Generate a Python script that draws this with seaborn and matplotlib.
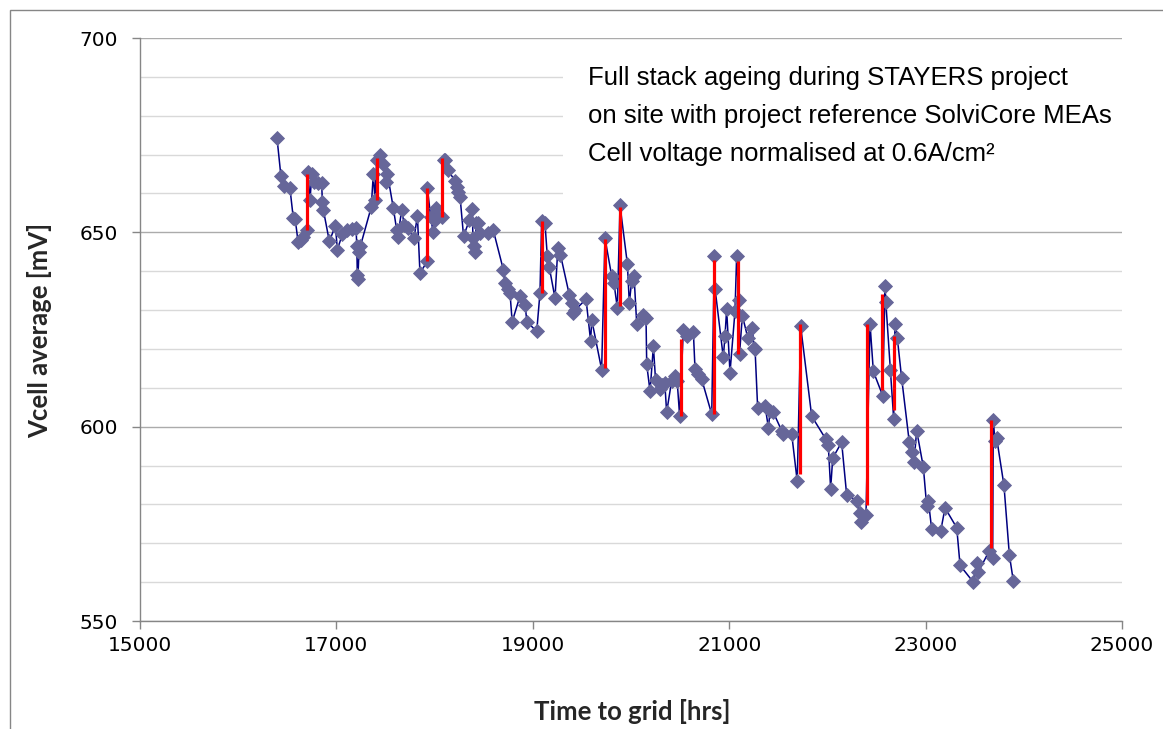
import matplotlib
matplotlib.use("Agg")
import matplotlib.pyplot as plt
import matplotlib.patches as patches
from matplotlib.ticker import MultipleLocator
import seaborn as sns
import pandas as pd

# ---- data ----
hours = [16395, 16435, 16470, 16527, 16561, 16580, 16610, 16635, 16660, 16697,
         16710, 16731, 16750, 16775, 16816, 16850, 16857, 16867, 16928, 16990,
         17010, 17060, 17110, 17155, 17200, 17208, 17213, 17218, 17230, 17245,
         17355, 17376, 17393, 17410, 17444, 17478, 17500, 17520, 17580, 17614,
         17625, 17665, 17690, 17725, 17790, 17825, 17851, 17926, 17926, 17960,
         17985, 18000, 18010, 18025, 18079, 18092, 18106, 18134, 18208, 18225,
         18241, 18259, 18295, 18355, 18385, 18390, 18398, 18408, 18425, 18445,
         18462, 18547, 18598, 18700, 18717, 18751, 18768, 18790, 18870, 18921,
         18940, 19040, 19073, 19090, 19124, 19148, 19168, 19226, 19255, 19282,
         19372, 19396, 19413, 19430, 19542, 19589, 19600, 19701, 19735, 19803,
         19827, 19861, 19888, 19963, 19983, 20007, 20031, 20058, 20126, 20153,
         20160, 20194, 20228, 20250, 20295, 20320, 20344, 20363, 20414, 20450,
         20470, 20495, 20533, 20567, 20635, 20652, 20686, 20720, 20822, 20849,
         20856, 20940, 20957, 20974, 21008, 21059, 21076, 21099, 21105, 21134,
         21189, 21236, 21250, 21263, 21290, 21365, 21400, 21415, 21449, 21534,
         21550, 21636, 21693, 21728, 21840, 21986, 22009, 22033, 22054, 22145,
         22196, 22298, 22332, 22339, 22393, 22434, 22468, 22563, 22587, 22595,
         22641, 22675, 22688, 22712, 22756, 22834, 22858, 22882, 22909, 22977,
         23011, 23028, 23062, 23154, 23198, 23317, 23351, 23486, 23520, 23537,
         23649, 23683, 23689, 23707, 23724, 23798, 23853, 23894]
vcell = [674.3, 664.5, 662.0, 661.3, 653.7, 653.5, 647.5, 648.0, 648.8, 650.5,
         665.5, 658.3, 665.0, 663.0, 662.6, 662.6, 657.9, 655.8, 647.7, 651.7,
         645.5, 649.5, 650.5, 650.9, 651.1, 646.4, 639.0, 638.0, 644.9, 646.5,
         656.5, 665.1, 658.3, 668.7, 670.0, 667.7, 663.0, 665.0, 656.2, 650.7,
         648.8, 655.8, 652.0, 651.0, 648.5, 654.2, 639.5, 642.6, 661.5, 654.0,
         650.0, 653.1, 656.3, 654.0, 654.0, 668.7, 668.5, 666.0, 663.3, 661.7,
         660.4, 659.2, 649.0, 653.2, 656.0, 648.6, 646.5, 645.0, 652.4, 652.3,
         649.8, 649.8, 650.5, 640.4, 636.9, 635.5, 634.3, 627.0, 633.6, 631.4,
         627.0, 624.5, 634.4, 652.8, 652.3, 643.8, 641.0, 633.1, 645.9, 644.2,
         633.9, 631.8, 629.2, 630.0, 632.8, 622.0, 627.5, 614.7, 648.5, 638.8,
         636.9, 630.5, 657.0, 641.9, 631.8, 637.6, 638.8, 626.5, 628.8, 628.0,
         616.0, 609.1, 620.7, 612.0, 609.6, 610.6, 611.3, 603.7, 611.8, 613.1,
         611.8, 602.8, 625.0, 623.3, 624.4, 614.8, 613.5, 612.2, 603.2, 643.8,
         635.5, 617.8, 623.3, 630.2, 613.9, 629.7, 644.0, 632.6, 618.6, 628.6,
         622.9, 625.5, 620.3, 620.1, 604.7, 605.4, 599.6, 604.1, 603.7, 599.0,
         598.1, 598.2, 585.9, 625.8, 602.7, 596.7, 595.4, 584.0, 591.9, 596.0,
         582.5, 581.0, 577.8, 575.6, 577.3, 626.5, 614.2, 608.0, 636.3, 632.0,
         614.7, 602.0, 626.3, 622.8, 612.5, 596.0, 593.6, 590.8, 599.0, 589.6,
         579.6, 581.0, 573.6, 573.2, 579.1, 574.0, 564.3, 560.0, 565.0, 562.6,
         568.1, 566.1, 601.7, 596.2, 597.0, 584.9, 567.0, 560.2]

# red recovery segments
red_hours = [16697, 17413, 17926, 18079, 19090, 19735, 19888, 20509, 20849,
             21086, 21721, 22406, 22553, 22682, 23663]
red_low = [650.5, 658.3, 642.6, 654.0, 634.4, 615.0, 631.0, 602.8, 603.2,
           618.6, 587.9, 579.9, 609.5, 604.4, 568.7]
red_high = [665.1, 669.0, 661.5, 669.0, 652.8, 648.3, 656.5, 622.6, 642.8,
            642.5, 626.3, 626.4, 634.2, 623.3, 601.7]

x_ticks = [15000, 17000, 19000, 21000, 23000, 25000]
y_ticks = [550, 600, 650, 700]
annotation = ["Full stack ageing during STAYERS project",
              "on site with project reference SolviCore MEAs",
              "Cell voltage normalised at 0.6A/cm\u00b2"]

df = pd.DataFrame({"hours": hours, "vcell": vcell})

sns.set_theme(style="white")
plt.rcParams["font.family"] = ["DejaVu Sans"]

W, H = 1163, 729
fig = plt.figure(figsize=(W / 100, H / 100), dpi=100)
ax = fig.add_axes([140 / W, 1 - 621 / H, 982 / W, 583 / H])

# gridlines
ax.set_xlim(15000, 25000)
ax.set_ylim(550, 700)
ax.yaxis.set_major_locator(MultipleLocator(50))
ax.yaxis.set_minor_locator(MultipleLocator(10))
ax.set_xticks(x_ticks)
ax.set_yticks(y_ticks)
ax.set_axisbelow(True)
ax.grid(axis="y", which="major", color="#ABABAB", linewidth=1.0, zorder=0.5)
ax.grid(axis="y", which="minor", color="#D9D9D9", linewidth=1.0, zorder=0.5)
ax.grid(axis="x", visible=False)

# white box hiding gridlines behind annotation
ax.add_patch(patches.Rectangle((0.431, 0.712), 0.569, 0.281,
                               transform=ax.transAxes, facecolor="white",
                               edgecolor="none", zorder=1))

sns.lineplot(data=df, x="hours", y="vcell", sort=False, estimator=None,
             color="#000080", linewidth=1.1, marker="D", markersize=7,
             markerfacecolor="#666699", markeredgecolor="#666699",
             markeredgewidth=0.6, ax=ax, zorder=3)
ax.vlines(red_hours, red_low, red_high, colors="#FF0000", linewidth=2.3, zorder=4)

for s in ["top", "right"]:
    ax.spines[s].set_visible(False)
for s in ["left", "bottom"]:
    ax.spines[s].set_color("#868686")
    ax.spines[s].set_linewidth(1.0)

ax.tick_params(axis="both", which="major", direction="out", length=6,
               width=1, color="#868686", labelsize=14.5, labelcolor="black",
               left=True, bottom=True)
ax.tick_params(axis="y", which="major", pad=10)
ax.tick_params(axis="x", which="major", pad=5)
ax.tick_params(axis="y", which="minor", left=False)

ax.set_xlabel("")
ax.set_ylabel("")
fig.text(632 / W, 1 - 711 / H, "Time to grid [hrs]", ha="center", va="center",
         fontsize=18.5, fontweight="bold", family=["Lato", "DejaVu Sans"])
fig.text(40 / W, 1 - 330 / H, "Vcell average [mV]", ha="center", va="center",
         rotation=90, fontsize=18.5, fontweight="bold",
         family=["Lato", "DejaVu Sans"])

for i, line in enumerate(annotation):
    fig.text(588 / W, 1 - (78 + 38 * i) / H, line, ha="left", va="center",
             fontsize=18.5, color="black",
             family=["Liberation Sans", "DejaVu Sans"])

# chart-area border
fig.patches.append(patches.Rectangle((10 / W, -0.5), 2, 1 - 10 / H + 0.5,
                                     transform=fig.transFigure, fill=False,
                                     edgecolor="#868686", linewidth=1.0))

fig.savefig("out.png", dpi=100)
